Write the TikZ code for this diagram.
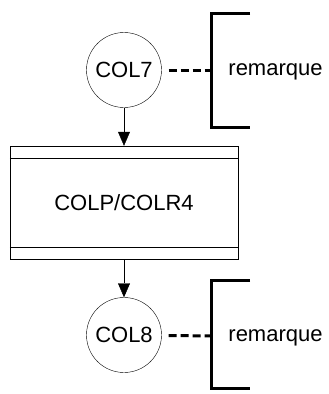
\documentclass[tikz,border=0pt]{standalone}
\usepackage{fontspec}
\setmainfont{Liberation Sans}
\usetikzlibrary{arrows.meta,positioning}

\begin{document}
\begin{tikzpicture}[x=1pt,y=-1pt, >={Triangle[width=12pt,length=14pt]},
    conn/.style={circle, draw, minimum size=75pt, inner sep=0pt,
        font=\fontsize{22}{26}\selectfont},
    proc/.style={rectangle, draw, minimum width=228pt, minimum height=113pt,
        font=\fontsize{22}{26}\selectfont},
    note/.style={font=\fontsize{22}{26}\selectfont},
    bracket/.style={line width=3pt},
    link/.style={line width=3pt, dash pattern=on 8pt off 4pt}]

    \useasboundingbox (0,0) rectangle (329,394);

    \node[conn] (C7) at (124,70) {COL7};
    \node[proc] (P) at (124,202.5) {COLP/COLR4};
    \node[conn] (C8) at (124,335) {COL8};
    \draw ([yshift=-12pt]P.north west) -- ([yshift=-12pt]P.north east);
    \draw ([yshift=12pt]P.south west) -- ([yshift=12pt]P.south east);
    \draw[->] (C7) -- (P);
    \draw[->] (P) -- (C8);

    % remarques
    \coordinate (B7) at (211,70);
    \coordinate (B8) at (211,336);
    \draw[bracket] (250,13) -- (211,13) -- (211,127) -- (250,127);
    \draw[bracket] (250,280) -- (211,280) -- (211,388) -- (250,388);
    \node[note] (R7) at (275.5,72) {remarque};
    \node[note] (R8) at (275.5,338) {remarque};
    \draw[link, shorten <=7pt] (C7) -- (B7);
    \draw[link, shorten <=7pt] (C8) -- (B8);
\end{tikzpicture}
\end{document}
